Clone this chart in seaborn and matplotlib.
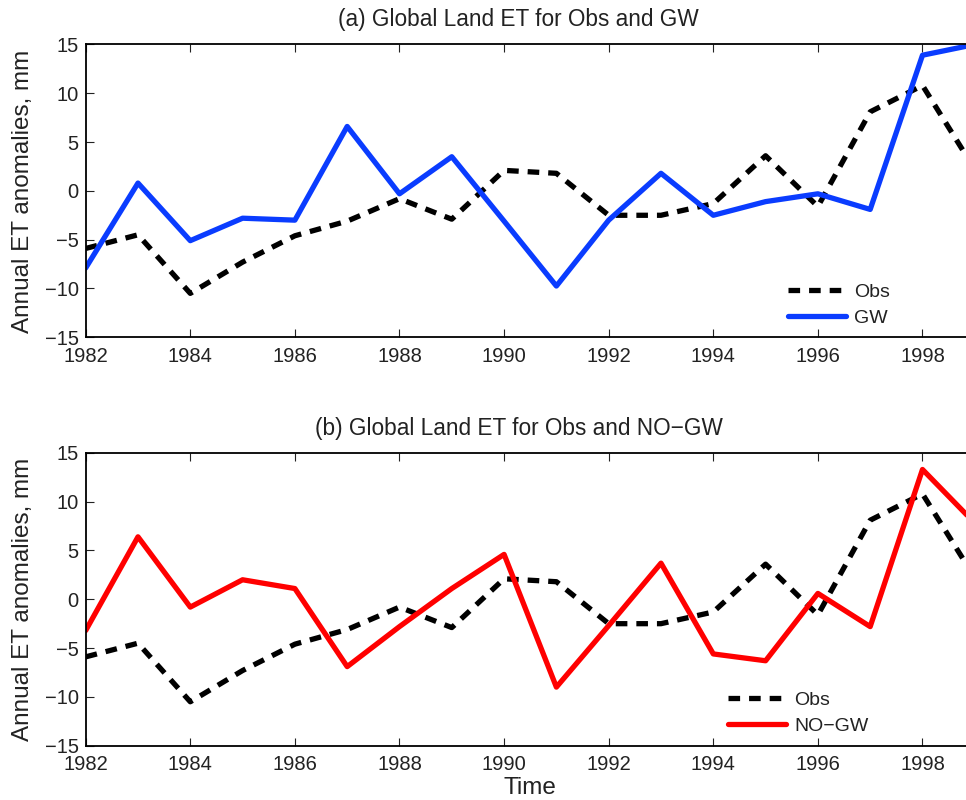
import matplotlib
matplotlib.use("Agg")
import matplotlib.pyplot as plt
import seaborn as sns
import pandas as pd

years = list(range(1982, 2000))
obs = [-5.9, -4.5, -10.5, -7.3, -4.6, -3.1, -0.8, -2.9, 2.1, 1.8, -2.5, -2.5, -1.3, 3.6, -1.6, 8.1, 10.8, 2.2]
gw = [-7.9, 0.8, -5.1, -2.8, -3.0, 6.6, -0.3, 3.5, -3.1, -9.75, -3.0, 1.8, -2.5, -1.1, -0.3, -1.9, 13.9, 15.0]
nogw = [-3.2, 6.4, -0.8, 2.0, 1.1, -6.9, -2.8, 1.1, 4.6, -9.0, -2.7, 3.7, -5.6, -6.3, 0.6, -2.8, 13.3, 7.8]

titles = ["(a) Global Land ET for Obs and GW", "(b) Global Land ET for Obs and NO\u2212GW"]
model_labels = ["GW", "NO\u2212GW"]
model_colors = ["#0A3CFF", "#FF0000"]
xticks = list(range(1982, 2000, 2))
yticks = [-15, -10, -5, 0, 5, 10, 15]

sns.set_theme(style="white")
plt.rcParams['font.family'] = ['Liberation Sans', 'DejaVu Sans']
plt.rcParams['axes.unicode_minus'] = True

fig = plt.figure(figsize=(9.66, 8.0), dpi=100)
positions = [[0.0887, 0.5784, 0.9204, 0.366], [0.0887, 0.0679, 0.9204, 0.366]]
models = [gw, nogw]
leg_anchor = [(0.790, 0.035), (0.7225, 0.036)]

for i in range(2):
    ax = fig.add_axes(positions[i])
    df_obs = pd.DataFrame({"Year": years, "ET": obs})
    df_mod = pd.DataFrame({"Year": years, "ET": models[i]})
    sns.lineplot(data=df_obs, x="Year", y="ET", ax=ax, color="black", lw=3.8,
                 label="Obs")
    ax.lines[-1].set_dashes((2.2, 1.7))
    ax.lines[-1].set_dash_capstyle("butt")
    sns.lineplot(data=df_mod, x="Year", y="ET", ax=ax, color=model_colors[i], lw=3.8,
                 label=model_labels[i])
    ax.set_xlim(1982, 1999)
    ax.set_ylim(-15, 15)
    ax.set_xticks(xticks)
    ax.set_yticks(yticks)
    ax.set_yticklabels([f"{v}".replace("-", "\u2212") for v in yticks])
    ax.tick_params(direction="in", length=6, width=0.8, labelsize=14.5, colors="#222222",
                   top=True, right=True, bottom=True, left=True)
    ax.tick_params(axis="x", pad=7)
    ax.tick_params(axis="y", pad=5)
    for s in ax.spines.values():
        s.set_color("black")
        s.set_linewidth(1.3)
        s.set_visible(True)
    ax.set_title(titles[i], fontsize=16.3, color="#222222", pad=13, x=0.487)
    ax.set_ylabel("Annual ET anomalies, mm", fontsize=17.5, color="#222222", labelpad=8)
    ax.set_xlabel("Time" if i == 1 else "", fontsize=17.5, color="#222222", labelpad=2)
    ax.grid(False)
    leg = ax.legend(loc="lower left", bbox_to_anchor=leg_anchor[i], frameon=False,
                    fontsize=14, handlelength=3.0, handletextpad=0.4, labelspacing=0.44,
                    borderaxespad=0.0, borderpad=0.0)
    for t in leg.get_texts():
        t.set_color("#222222")
    for h in leg.get_lines():
        h.set_linewidth(3.8)

fig.savefig("out.png", dpi=100)
